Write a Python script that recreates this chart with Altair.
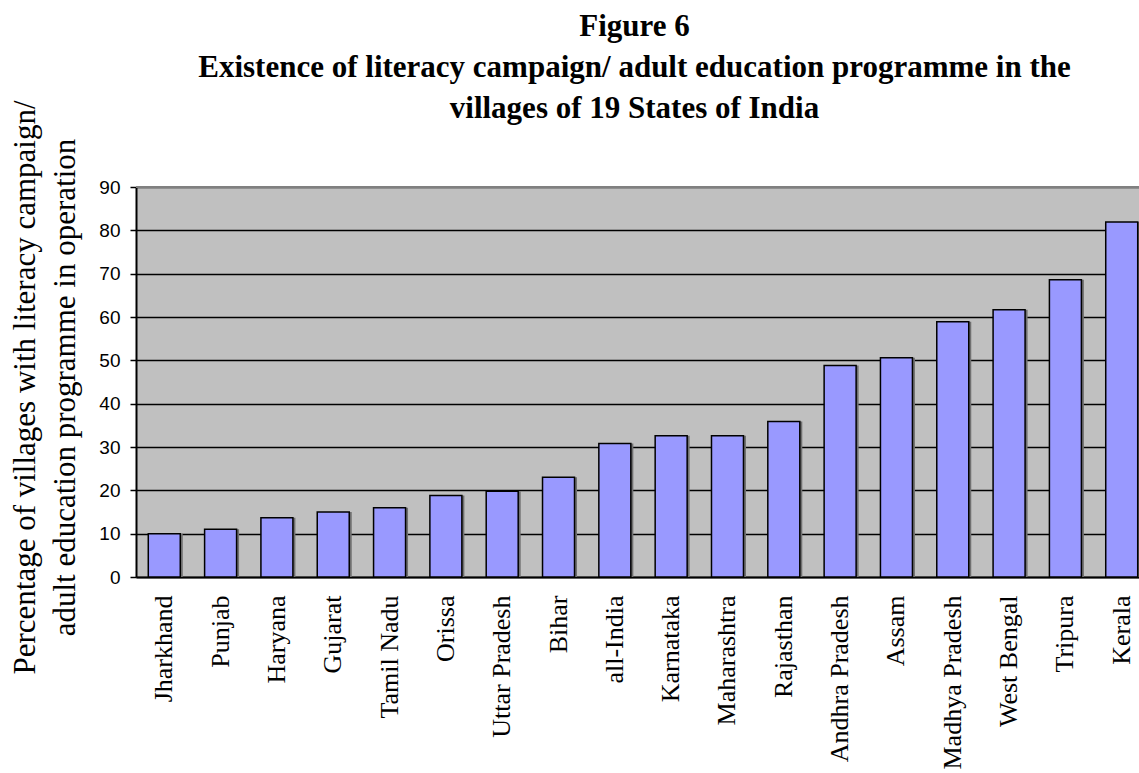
import altair as alt
import pandas as pd

states = ["Jharkhand", "Punjab", "Haryana", "Gujarat", "Tamil Nadu", "Orissa",
          "Uttar Pradesh", "Bihar", "all-India", "Karnataka", "Maharashtra",
          "Rajasthan", "Andhra Pradesh", "Assam", "Madhya Pradesh",
          "West Bengal", "Tripura", "Kerala"]
values = [10, 11, 13.7, 15, 16, 18.8, 19.8, 23, 30.8, 32.6, 32.6, 35.9,
          48.8, 50.6, 58.9, 61.7, 68.6, 81.9]
y_ticks = [0, 10, 20, 30, 40, 50, 60, 70, 80, 90]
title_lines = ["Figure 6",
               "Existence of literacy campaign/ adult education programme in the",
               "villages of 19 States of India"]
y_title = ["Percentage of villages with literacy campaign/",
           "adult education programme in operation"]

df = pd.DataFrame({"state": states, "value": values})

x_enc = alt.X("state:N", sort=states,
              scale=alt.Scale(range=[0, 1014], paddingInner=0.432, paddingOuter=0.218),
              axis=alt.Axis(title=None, labelAngle=270, labelAlign="right",
                            labelBaseline="middle", labelFont="Liberation Serif",
                            labelFontSize=26, labelColor="black", labelPadding=18,
                            ticks=False, tickSize=0, domainColor="black",
                            domainWidth=2, grid=False, labelOverlap=False))

y_enc = alt.Y("value:Q",
              scale=alt.Scale(domain=[0, 90], nice=False),
              axis=alt.Axis(values=y_ticks, title=y_title,
                            titleFont="Liberation Serif", titleFontSize=31,
                            titleFontWeight="normal", titleColor="black",
                            titleLineHeight=40, titleAngle=270,
                            titleBaseline="alphabetic", titleAlign="center",
                            titleX=-102, titleY=200,
                            labelFont="Liberation Sans", labelFontSize=19,
                            labelColor="black", labelPadding=10,
                            tickSize=6, tickColor="black", tickWidth=1.5,
                            domainColor="black", domainWidth=2,
                            grid=True, gridColor="black", gridWidth=1.5))

base = alt.Chart(df).encode(x=x_enc, y=y_enc)

shadow = base.mark_bar(color="#707070", xOffset=2.5)
bars = base.mark_bar(color="#9999FF", stroke="black", strokeWidth=1.5)

top_border = alt.Chart(df).mark_rule(color="#808080", strokeWidth=2).encode(
    y=alt.datum(90))

chart = alt.layer(shadow, bars, top_border).properties(
    width=1003, height=390,
    background="white",
    title=alt.TitleParams(text=title_lines, font="Liberation Serif", fontSize=31,
                          fontWeight="bold", color="black", lineHeight=41,
                          anchor="middle", frame="group", offset=10, dy=35, dx=-3),
    autosize=alt.AutoSizeParams(type="none"),
    padding={"left": 136, "top": 187, "right": 0, "bottom": 196},
).configure_view(fill="#C0C0C0", strokeWidth=0)

chart.save("out.html", embed_options={"renderer": "svg", "actions": False})
